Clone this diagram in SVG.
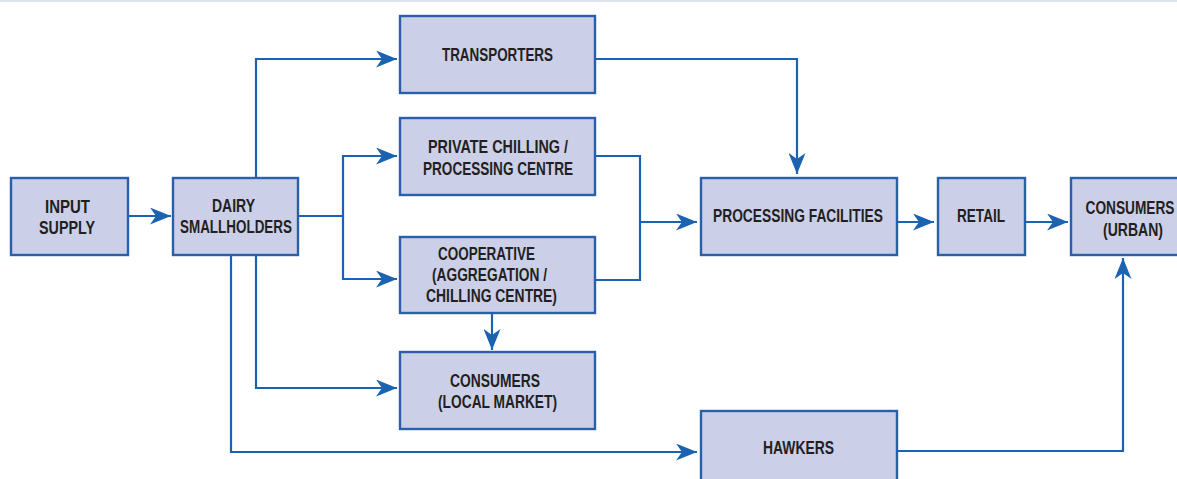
<svg xmlns="http://www.w3.org/2000/svg" width="1177" height="479" viewBox="0 0 1177 479">
  <style>
    .box { fill: #cbd0e8; stroke: #2b5fab; stroke-width: 2.4; }
    .lbl { font-family: "Liberation Sans", Arial, sans-serif; font-weight: bold; font-size: 17.5px; fill: #231f20; text-anchor: middle; }
    .wire { fill: none; stroke: #1b63b1; stroke-width: 2.2; }
    .arrow { marker-end: url(#head); }
  </style>
  <defs>
    <marker id="head" markerUnits="userSpaceOnUse" viewBox="0 0 21 17" markerWidth="21" markerHeight="17" refX="21" refY="8.5" orient="auto">
      <path d="M0,0 L21,8.5 L0,17 L6,8.5 Z" fill="#1b63b1"/>
    </marker>
  </defs>

  <rect x="0" y="0" width="1177" height="479" fill="#ffffff"/>
  <rect x="0" y="0" width="1177" height="2" fill="#dce4f0"/>

  <g id="connectors">
    <!-- input supply to smallholders -->
    <path class="wire arrow" d="M128,216 H171"/>
    <!-- smallholders to transporters -->
    <path class="wire arrow" d="M256,178 V59 H397"/>
    <!-- smallholders fork to chilling centres -->
    <path class="wire" d="M298,216 H343"/>
    <path class="wire arrow" d="M343,216 V156 H397"/>
    <path class="wire arrow" d="M343,216 V279 H397"/>
    <!-- smallholders to local consumers -->
    <path class="wire arrow" d="M256,255 V388 H397"/>
    <!-- smallholders to hawkers -->
    <path class="wire arrow" d="M231,255 V452 H697"/>
    <!-- transporters to processing -->
    <path class="wire arrow" d="M595,59 H797 V174"/>
    <!-- chilling centres merge to processing -->
    <path class="wire" d="M595,156 H640 V280 H595"/>
    <path class="wire arrow" d="M640,222 H697"/>
    <!-- cooperative to local consumers -->
    <path class="wire arrow" d="M492,313 V350"/>
    <!-- processing to retail to urban consumers -->
    <path class="wire arrow" d="M897,222 H934"/>
    <path class="wire arrow" d="M1025,222 H1068"/>
    <!-- hawkers to urban consumers -->
    <path class="wire arrow" d="M897,451 H1123 V258"/>
  </g>

  <g id="input-supply">
    <rect class="box" x="11" y="178" width="117" height="77"/>
    <text class="lbl" x="67.5" y="212.5" textLength="45" lengthAdjust="spacingAndGlyphs">INPUT</text>
    <text class="lbl" x="67" y="233.5" textLength="56" lengthAdjust="spacingAndGlyphs">SUPPLY</text>
  </g>

  <g id="dairy-smallholders">
    <rect class="box" x="173" y="178" width="125" height="77"/>
    <text class="lbl" x="233.5" y="212" textLength="43" lengthAdjust="spacingAndGlyphs">DAIRY</text>
    <text class="lbl" x="236" y="233" textLength="112" lengthAdjust="spacingAndGlyphs">SMALLHOLDERS</text>
  </g>

  <g id="transporters">
    <rect class="box" x="400" y="16" width="195" height="77"/>
    <text class="lbl" x="497.5" y="61" textLength="111" lengthAdjust="spacingAndGlyphs">TRANSPORTERS</text>
  </g>

  <g id="private-chilling">
    <rect class="box" x="400" y="118" width="195" height="77"/>
    <text class="lbl" x="498" y="153" textLength="140" lengthAdjust="spacingAndGlyphs">PRIVATE CHILLING /</text>
    <text class="lbl" x="498" y="175" textLength="150" lengthAdjust="spacingAndGlyphs">PROCESSING CENTRE</text>
  </g>

  <g id="cooperative">
    <rect class="box" x="400" y="237" width="195" height="76"/>
    <text class="lbl" x="486.5" y="260" textLength="97" lengthAdjust="spacingAndGlyphs">COOPERATIVE</text>
    <text class="lbl" x="489.5" y="281" textLength="115" lengthAdjust="spacingAndGlyphs">(AGGREGATION /</text>
    <text class="lbl" x="491.5" y="302" textLength="131" lengthAdjust="spacingAndGlyphs">CHILLING CENTRE)</text>
  </g>

  <g id="consumers-local">
    <rect class="box" x="400" y="352" width="195" height="77"/>
    <text class="lbl" x="495" y="387" textLength="90" lengthAdjust="spacingAndGlyphs">CONSUMERS</text>
    <text class="lbl" x="497.5" y="408" textLength="119" lengthAdjust="spacingAndGlyphs">(LOCAL MARKET)</text>
  </g>

  <g id="processing-facilities">
    <rect class="box" x="701" y="178" width="196" height="77"/>
    <text class="lbl" x="798" y="222" textLength="170" lengthAdjust="spacingAndGlyphs">PROCESSING FACILITIES</text>
  </g>

  <g id="retail">
    <rect class="box" x="938" y="178" width="87" height="77"/>
    <text class="lbl" x="981" y="222" textLength="48" lengthAdjust="spacingAndGlyphs">RETAIL</text>
  </g>

  <g id="consumers-urban">
    <rect class="box" x="1071" y="178" width="130" height="77"/>
    <text class="lbl" x="1130" y="214" textLength="89" lengthAdjust="spacingAndGlyphs">CONSUMERS</text>
    <text class="lbl" x="1133" y="235.5" textLength="60" lengthAdjust="spacingAndGlyphs">(URBAN)</text>
  </g>

  <g id="hawkers">
    <rect class="box" x="701" y="411" width="196" height="80"/>
    <text class="lbl" x="798.5" y="454" textLength="71" lengthAdjust="spacingAndGlyphs">HAWKERS</text>
  </g>
</svg>
